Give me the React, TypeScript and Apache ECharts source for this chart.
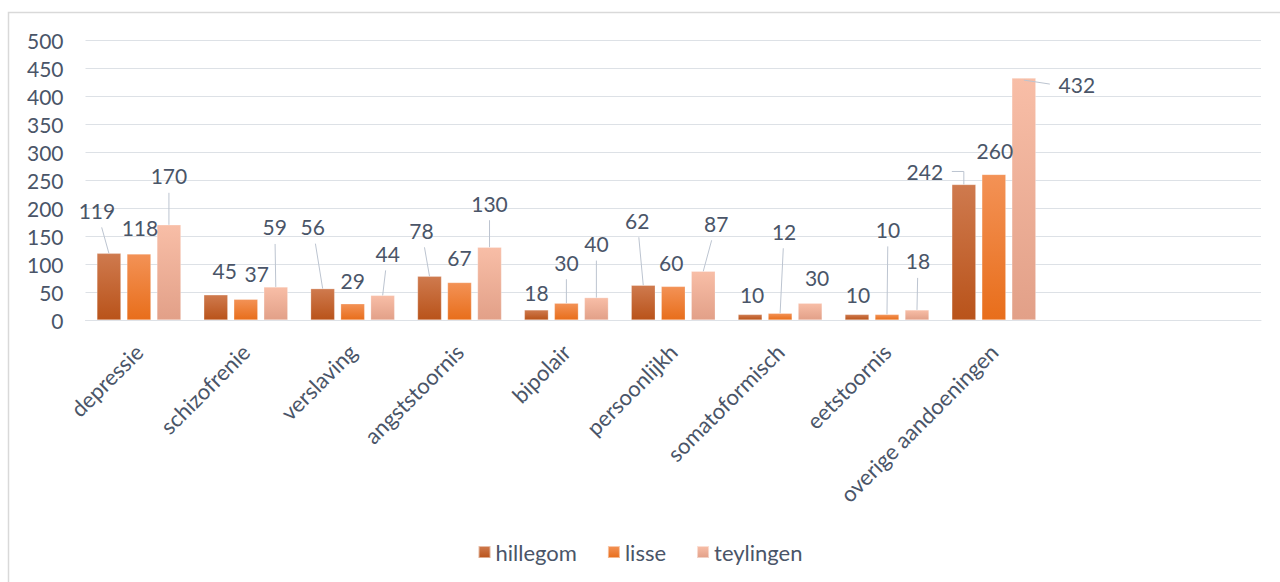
import React, { useEffect, useRef } from "react";
import * as echarts from "echarts";

const CATEGORIES = [
  "depressie",
  "schizofrenie",
  "verslaving",
  "angststoornis",
  "bipolair",
  "persoonlijkh",
  "somatoformisch",
  "eetstoornis",
  "overige aandoeningen",
];
const EMPTY_SLOTS = ["", ""];
const SERIES_NAMES = ["hillegom", "lisse", "teylingen"];
const HILLEGOM = [119, 45, 56, 78, 18, 62, 10, 10, 242];
const LISSE = [118, 37, 29, 67, 30, 60, 12, 10, 260];
const TEYLINGEN = [170, 59, 44, 130, 40, 87, 30, 18, 432];
const Y_MIN = 0;
const Y_MAX = 500;
const Y_STEP = 50;

// label offsets (px) relative to a label sitting just above its bar
const LABEL_DX = [
  [-12, 9, -10, -8, 0, -6, 2, 1, -39],
  [1, 11, 0, 0, 0, -2, 4, 1, 1],
  [0, -1, 5, 0, 0, 13, 7, 1, 53],
];
const LABEL_DY = [
  [-26, -7, -45, -29, 0, -48, -3, -3, 4],
  [-9, -9, -6, -8, -24, -7, -65, -68, -7],
  [-32, -43, -25, -27, -37, -31, -9, -32, 23],
];
// 0 none, 1 line under label, 2 elbow line from label's right side, 3 line to label's left side
const LABEL_LINE = [
  [1, 0, 1, 1, 0, 1, 0, 0, 2],
  [0, 0, 0, 0, 1, 0, 1, 1, 0],
  [1, 1, 1, 1, 1, 1, 0, 1, 3],
];

const FONT = "Lato";
const FONT_SIZE = 21;
const TEXT_COLOR = "#4a5568";
const LINE_COLOR = "#bcc4d0";
const BAR_WIDTH = 24;
const BAR_GAP_PX = 6;

const grad = (top: string, bottom: string) =>
  new echarts.graphic.LinearGradient(0, 0, 0, 1, [
    { offset: 0, color: top },
    { offset: 1, color: bottom },
  ]);

export default function App() {
  const ref = useRef<HTMLDivElement>(null);
  useEffect(() => {
    if (!ref.current) return;
    const chart = echarts.init(ref.current, undefined, { renderer: "svg" });
    const values = [HILLEGOM, LISSE, TEYLINGEN];
    const colors = [
      grad("#cf7a4e", "#b9531a"),
      grad("#f39256", "#e86e1b"),
      grad("#f8bea7", "#e2a088"),
    ];
    const barSeries = values.map((vals, s) => ({
      name: SERIES_NAMES[s],
      type: "bar",
      barWidth: BAR_WIDTH,
      barGap: "25%",
      itemStyle: { color: colors[s], borderColor: "rgba(255,255,255,0.5)", borderWidth: 0.5 },
      data: vals,
    }));

    const labelData: number[][] = [];
    values.forEach((vals, s) => vals.forEach((v, i) => labelData.push([i, v, s])));

    const labelSeries = {
      name: "labels",
      type: "custom",
      z: 5,
      clip: false,
      silent: true,
      data: labelData,
      renderItem: (params: any, api: any) => {
        const i = api.value(0);
        const v = api.value(1);
        const s = api.value(2);
        const p = api.coord([i, v]);
        const x = p[0] + (s - 1) * (BAR_WIDTH + BAR_GAP_PX);
        const top = p[1];
        const lx = x + LABEL_DX[s][i];
        const ly = top - 17 + LABEL_DY[s][i];
        const children: any[] = [];
        const mode = LABEL_LINE[s][i];
        const ls = { stroke: LINE_COLOR, lineWidth: 1, fill: "none" };
        if (mode === 1) {
          const ey = ly + 17;
          const t = (top - ey) / (top - ly);
          const ex = x + (lx - x) * t;
          children.push({ type: "line", shape: { x1: x, y1: top, x2: ex, y2: ey }, style: ls });
        } else if (mode === 2) {
          children.push({
            type: "polyline",
            shape: { points: [[lx + 27, ly], [x, ly], [x, top]] },
            style: ls,
          });
        } else if (mode === 3) {
          children.push({ type: "line", shape: { x1: x, y1: top + 2, x2: lx - 27, y2: ly }, style: ls });
        }
        children.push({
          type: "text",
          x: lx,
          y: ly,
          style: {
            text: String(v),
            fontFamily: FONT,
            fontSize: FONT_SIZE,
            fill: TEXT_COLOR,
            align: "center",
            verticalAlign: "middle",
          },
        });
        return { type: "group", children };
      },
    };

    chart.setOption({
      animation: false,
      backgroundColor: "#ffffff",
      graphic: [
        {
          type: "rect",
          shape: { x: 8.5, y: 12.5, width: 1300, height: 620 },
          style: { fill: "none", stroke: "#d9d9d9", lineWidth: 1.5 },
          silent: true,
          z: -1,
        },
      ],
      grid: { left: 85.5, right: 19, top: 40, bottom: 262, containLabel: false },
      legend: {
        data: SERIES_NAMES,
        left: "center",
        top: 536,
        itemWidth: 12,
        itemHeight: 12,
        itemGap: 30,
        icon: "rect",
        textStyle: { fontFamily: FONT, fontSize: 22, color: TEXT_COLOR },
      },
      xAxis: {
        type: "category",
        data: [...CATEGORIES, ...EMPTY_SLOTS],
        axisTick: { show: false },
        axisLine: { lineStyle: { color: "#dde1e6", width: 1 } },
        axisLabel: {
          rotate: 45,
          interval: 0,
          margin: 28,
          fontFamily: FONT,
          fontSize: 22,
          color: TEXT_COLOR,
        },
      },
      yAxis: {
        type: "value",
        min: Y_MIN,
        max: Y_MAX,
        interval: Y_STEP,
        axisLine: { show: false },
        axisTick: { show: false },
        splitLine: { lineStyle: { color: "#dde1e6", width: 1 } },
        axisLabel: {
          margin: 22,
          fontFamily: FONT,
          fontSize: FONT_SIZE,
          color: TEXT_COLOR,
        },
      },
      series: [...barSeries, labelSeries],
    });
    return () => chart.dispose();
  }, []);
  return (
    <div
      ref={ref}
      style={{ position: "fixed", left: 0, top: 0, width: 1280, height: 582 }}
    />
  );
}
